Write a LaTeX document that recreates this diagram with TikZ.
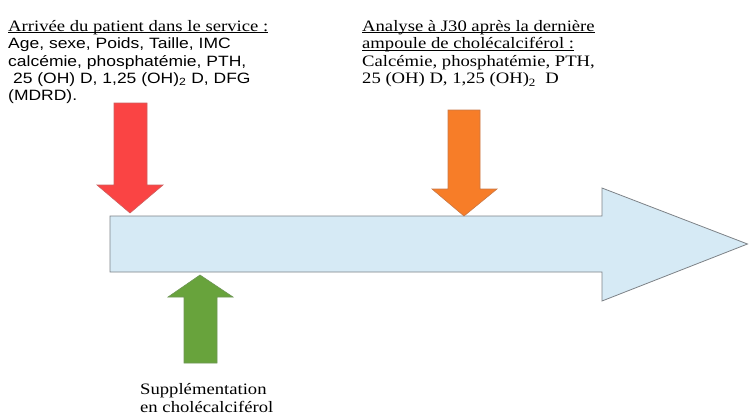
\documentclass[tikz,border=0pt]{standalone}
\usepackage{fontspec}
\setmainfont{Liberation Serif}[FakeStretch=1.17]
\newfontfamily\arialf{Liberation Sans}[FakeStretch=1.17]
\newcommand\lowul[1]{\underline{\smash{#1}}}
\definecolor{bluefill}{RGB}{214,234,245}
\definecolor{blueline}{RGB}{125,130,135}
\definecolor{redfill}{RGB}{250,68,68}
\definecolor{redline}{RGB}{205,95,95}
\definecolor{orangefill}{RGB}{247,125,40}
\definecolor{orangeline}{RGB}{200,120,70}
\definecolor{greenfill}{RGB}{104,163,60}
\definecolor{greenline}{RGB}{110,150,85}
\begin{document}
\begin{tikzpicture}[x=1bp,y=-1bp,
  txt/.style={anchor=north west,inner sep=0pt,align=left,
    font=\fontsize{16}{17.5}\selectfont},
  bigarrow/.style={fill=bluefill,draw=blueline,line width=0.8bp},
  redarrow/.style={fill=redfill,draw=redline,line width=0.6bp},
  orangearrow/.style={fill=orangefill,draw=orangeline,line width=0.6bp},
  greenarrow/.style={fill=greenfill,draw=greenline,line width=0.6bp}]
\useasboundingbox (0,0) rectangle (749,417);
% timeline arrow
\draw[bigarrow] (110,216) -- (602,216) -- (602,188) -- (747.5,244) -- (602,301) -- (602,272) -- (110,272) -- cycle;
% red arrow
\draw[redarrow] (114,103) -- (147,103) -- (147,185) -- (163,185) -- (130,213) -- (97,185) -- (114,185) -- cycle;
% orange arrow
\draw[orangearrow] (448,110) -- (480,110) -- (480,189) -- (497,189) -- (464,216) -- (432,189) -- (448,189) -- cycle;
% green arrow
\draw[greenarrow] (184,363) -- (217,363) -- (217,297) -- (233,297) -- (200,275) -- (168,297) -- (184,297) -- cycle;
% texts
\node[txt] (arrivee) at (8,31) {\lowul{Arrivée du patient dans le service :}\\
  {\arialf\fontsize{15}{17.5}\selectfont Age, sexe, Poids, Taille, IMC}\\
  {\arialf\fontsize{15}{17.5}\selectfont calcémie, phosphatémie, PTH,}\\
  {\arialf\fontsize{15}{17.5}\selectfont \ 25 (OH) D, 1,25 (OH)\textsubscript{2} D, DFG}\\
  {\arialf\fontsize{15}{17.5}\selectfont (MDRD).}};
\node[txt] (analyse) at (362,31) {\lowul{Analyse à J30 après la dernière}\\
  \lowul{ampoule de cholécalciférol :}\\
  Calcémie, phosphatémie, PTH,\\
  25 (OH) D, 1,25 (OH)\textsubscript{2}\ \ D};
\node[txt] (suppl) at (140,383.5) {Supplémentation\\en cholécalciférol};
\end{tikzpicture}
\end{document}
